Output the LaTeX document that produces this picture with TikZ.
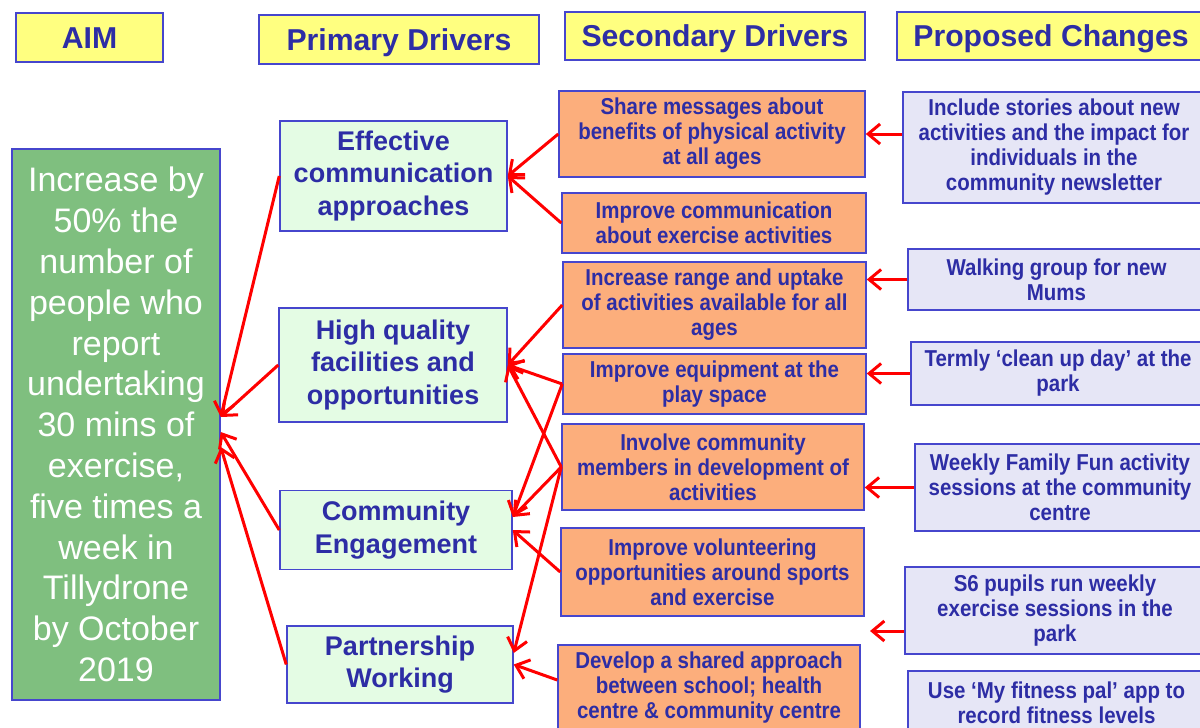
\documentclass[tikz,border=0pt]{standalone}
\usepackage{fontspec}
\setmainfont{Liberation Sans}
\newfontfamily\narrowsf{Liberation Sans}[FakeStretch=0.89]
\usetikzlibrary{arrows.meta,positioning}

\definecolor{inkblue}{RGB}{45,45,165}
\definecolor{rimblue}{RGB}{70,70,205}
\definecolor{headyellow}{RGB}{255,255,128}
\definecolor{aimgreen}{RGB}{127,191,127}
\definecolor{primgreen}{RGB}{228,252,228}
\definecolor{secorange}{RGB}{252,174,124}
\definecolor{proplilac}{RGB}{230,230,246}

\begin{document}
\begin{tikzpicture}[x=0.5pt,y=-0.5pt,
		box/.style={draw=rimblue,line width=0.75pt,inner sep=0pt,align=center,text=inkblue},
		head/.style={box,fill=headyellow,text height=10.8pt,text depth=0pt,font=\fontsize{15.1}{18}\selectfont\bfseries},
		prim/.style={box,fill=primgreen,font=\fontsize{13.5}{16.25}\selectfont\bfseries},
		sec/.style={box,fill=secorange,font=\narrowsf\fontsize{11.5}{12.5}\selectfont\bfseries},
		prop/.style={box,fill=proplilac,font=\narrowsf\fontsize{11.5}{12.5}\selectfont\bfseries},
		arr/.style={draw=red,line width=1.5pt,-{Straight Barb[length=6pt,width=10pt]}}]
	\useasboundingbox (0,0) rectangle (1200,728);

	\node[head,minimum width=73.5pt,minimum height=24.5pt] (haim) at (89.5,37.5) {AIM};
	\node[head,minimum width=140pt,minimum height=24.5pt] (hprim) at (399,39.5) {Primary Drivers};
	\node[head,minimum width=150pt,minimum height=24pt] (hsec) at (715,36) {Secondary Drivers};
	\node[head,minimum width=154pt,minimum height=24pt] (hprop) at (1051,36) {Proposed Changes};

	\node[box,fill=aimgreen,text=white,minimum width=104pt,minimum height=275.5pt,
		font=\fontsize{17}{20.4}\selectfont] (aim) at (116,424.5)
		{Increase by\\50\% the\\number of\\people who\\report\\undertaking\\30 mins of\\exercise,\\five times a\\week in\\Tillydrone\\by October\\2019};

	\node[prim,minimum width=113.5pt,minimum height=55pt] (p1) at (393.5,176) {Effective\\communication\\approaches};
	\node[prim,minimum width=114pt,minimum height=57pt] (p2) at (393,365) {High quality\\facilities and\\opportunities};
	\node[prim,minimum width=116pt,minimum height=39.5pt] (p3) at (396,530) {Community\\Engagement};
	\node[prim,minimum width=113pt,minimum height=38.5pt] (p4) at (400,664.5) {Partnership\\Working};

	\node[sec,minimum width=153pt,minimum height=43pt] (s1) at (712,134) {Share messages about\\benefits of physical activity\\at all ages};
	\node[sec,minimum width=152pt,minimum height=30pt] (s2) at (714,223) {Improve communication\\about exercise activities};
	\node[sec,minimum width=151.5pt,minimum height=43pt] (s3) at (714.5,305) {Increase range and uptake\\of activities available for all\\ages};
	\node[sec,minimum width=151.5pt,minimum height=30pt] (s4) at (714.5,384) {Improve equipment at the\\play space};
	\node[sec,minimum width=151pt,minimum height=43pt] (s5) at (713,467) {Involve community\\members in development of\\activities};
	\node[sec,minimum width=151.5pt,minimum height=44pt] (s6) at (712.5,572) {Improve volunteering\\opportunities around sports\\and exercise};
	\node[sec,minimum width=151pt,minimum height=42.5pt] (s7) at (709,687.5) {Develop a shared approach\\between school; health\\centre \& community centre};

	\node[prop,minimum width=151pt,minimum height=55.5pt] (r1) at (1054,147.5) {Include stories about new\\activities and the impact for\\individuals in the\\community newsletter};
	\node[prop,minimum width=148.5pt,minimum height=30.5pt] (r2) at (1056.5,279.5) {Walking group for new\\Mums};
	\node[prop,minimum width=147pt,minimum height=31.5pt] (r3) at (1058,373.5) {Termly ‘clean up day’ at the\\park};
	\node[prop,minimum width=145pt,minimum height=43.5pt] (r4) at (1060,487.5) {Weekly Family Fun activity\\sessions at the community\\centre};
	\node[prop,minimum width=150pt,minimum height=43.5pt] (r5) at (1055,610.5) {S6 pupils run weekly\\exercise sessions in the\\park};
	\node[prop,minimum width=148.5pt,minimum height=32pt] (r6) at (1056.5,703) {Use ‘My fitness pal’ app to\\record fitness levels};

	\coordinate (aimtop) at ([yshift=3.75pt]aim.east);
	\coordinate (aimmid) at ([yshift=-3.75pt]aim.east);
	\coordinate (aimlow) at ([yshift=-11.25pt]aim.east);
	\coordinate (p3top) at ([yshift=6.5pt]p3.east);
	\coordinate (p4top) at ([yshift=5.75pt]p4.east);
	\coordinate (s7out) at ([yshift=3.75pt]s7.west);
	\coordinate (gap) at (870,631);

	\foreach \a/\b in {p1.west/aimtop,p2.west/aimtop,p3.west/aimmid,p4.west/aimlow,
			s1.west/p1.east,s2.west/p1.east,s3.west/p2.east,s4.west/p2.east,s5.west/p2.east,
			s4.west/p3top,s5.west/p3top,s6.west/p3.east,s5.west/p4top,s7out/p4.east}
		\draw[arr] (\a) -- (\b);

	\draw[arr] (r1.west |- s1.east) -- (s1.east);
	\draw[arr] (r2.west) -- (r2.west -| s3.east);
	\draw[arr] (r3.west) -- (r3.west -| s4.east);
	\draw[arr] (r4.west) -- (r4.west -| s5.east);
	\draw[arr] (r5.west |- gap) -- (gap);
\end{tikzpicture}
\end{document}
